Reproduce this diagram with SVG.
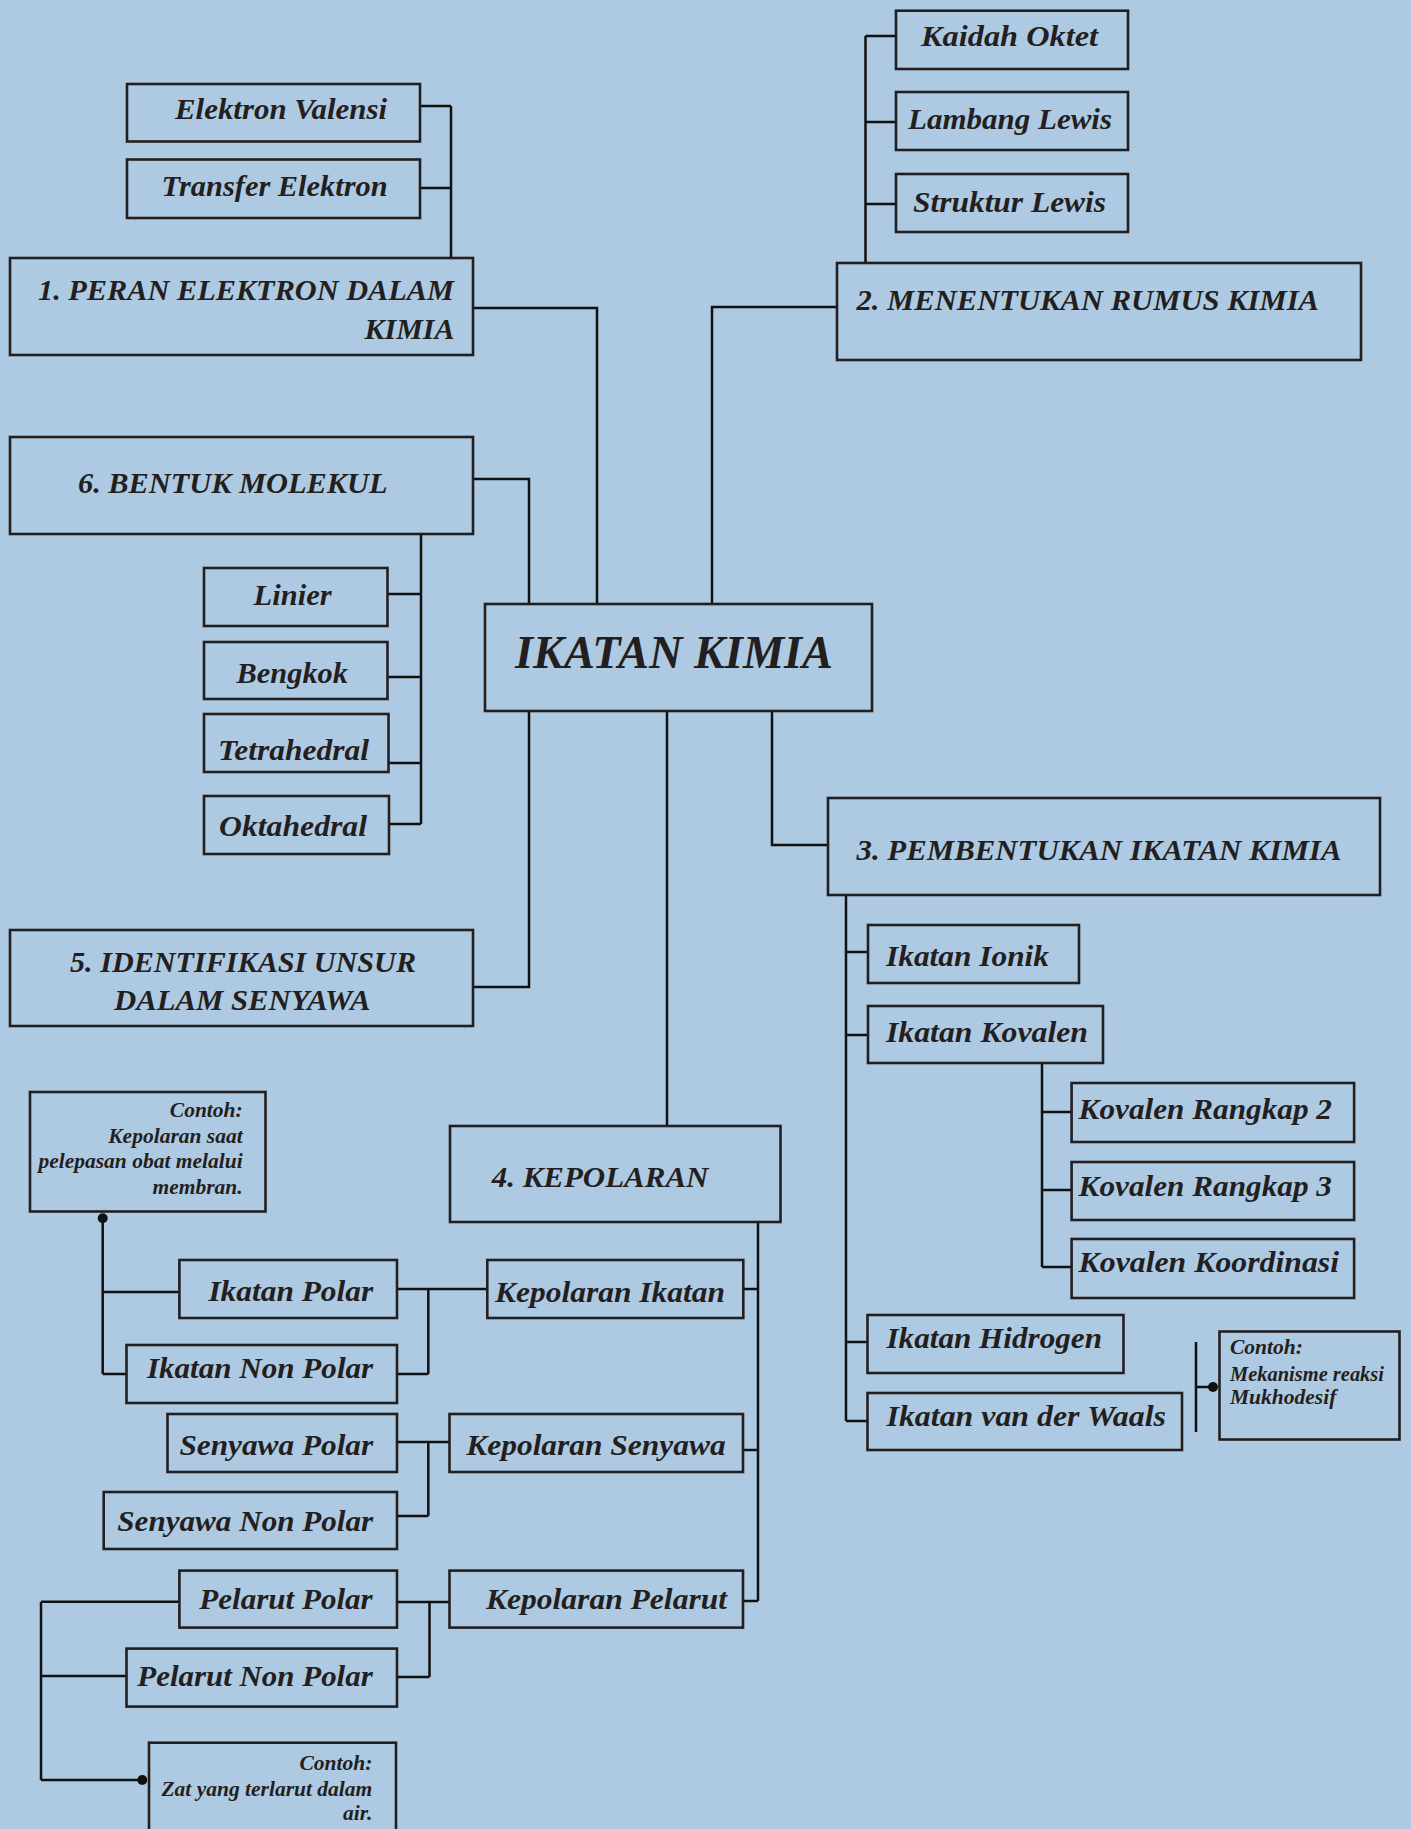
<svg xmlns="http://www.w3.org/2000/svg" width="1411" height="1829" viewBox="0 0 1411 1829">
<style>
.box{fill:none;stroke:#231f20;stroke-width:2.6}
.t{font-family:"Liberation Serif","Times New Roman",serif;font-weight:bold;font-style:italic;fill:#231f20}
.h{font-size:30px}
.n{font-size:30px}
.title{font-size:47px}
.note{font-size:21.5px}
#connectors path{fill:none;stroke:#111;stroke-width:2.5}
#connectors circle{fill:#111}
</style>
<rect x="0" y="0" width="1411" height="1829" fill="#aecae2"/>

<g id="connectors">
  <path d="M473,308 H597 V604"/>
  <path d="M837,307 H712 V604"/>
  <path d="M473,479 H529 V604"/>
  <path d="M529,711 V987 H473"/>
  <path d="M772,711 V845 H828"/>
  <path d="M667,711 V1126"/>
  <path d="M420,106 H451 M420,188 H451 M451,106 V258"/>
  <path d="M865.5,36 V263 M865.5,36 H896 M865.5,122 H896 M865.5,204 H896"/>
  <path d="M421,534 V824 M387.5,594 H421 M387.5,677 H421 M388.5,763 H421 M389,824 H421"/>
  <path d="M846,895 V1421 M846,952 H868 M846,1035 H868 M846,1342 H867.5 M846,1421 H867.5"/>
  <path d="M1042,1063 V1267 M1042,1112 H1071.6 M1042,1190 H1071.6 M1042,1267 H1071.6"/>
  <path d="M1196,1342 V1432 M1196,1387 H1213"/>
  <circle cx="1213" cy="1387" r="5"/>
  <path d="M758,1222 V1601 M743.3,1289 H758 M743,1450 H758 M743,1601 H758"/>
  <path d="M397,1289 H487.3 M428.3,1289 V1374 M397,1374 H428.3"/>
  <path d="M397,1442 H449.5 M428.3,1442 V1516 M397,1516 H428.3"/>
  <path d="M397,1602 H449.5 M429.5,1602 V1677 M397,1677 H429.5"/>
  <path d="M102.7,1218 V1374 M102.7,1292 H179.4 M102.7,1374 H126.5"/>
  <circle cx="102.7" cy="1218.3" r="5"/>
  <path d="M41,1601.7 V1780 M41,1601.7 H179.4 M41,1676 H126.5 M41,1780 H142.3"/>
  <circle cx="142.3" cy="1780" r="5"/>
</g>

<g id="main">
  <rect class="box" x="485" y="604" width="387" height="107"/>
  <text class="t title" x="515" y="668" textLength="318" lengthAdjust="spacingAndGlyphs">IKATAN KIMIA</text>
</g>

<g id="n1">
  <rect class="box" x="10" y="258" width="463" height="97"/>
  <text class="t h" x="38" y="300" textLength="416" lengthAdjust="spacingAndGlyphs">1. PERAN ELEKTRON DALAM</text>
  <text class="t h" x="454.5" y="339" text-anchor="end">KIMIA</text>
</g>
<g id="n1a">
  <rect class="box" x="127" y="84" width="293" height="57.5"/>
  <text class="t n" x="175" y="119" textLength="212" lengthAdjust="spacingAndGlyphs">Elektron Valensi</text>
</g>
<g id="n1b">
  <rect class="box" x="127" y="159.5" width="293" height="58.5"/>
  <text class="t n" x="161.6" y="196" textLength="226" lengthAdjust="spacingAndGlyphs">Transfer Elektron</text>
</g>

<g id="n2">
  <rect class="box" x="837" y="263" width="524" height="97"/>
  <text class="t h" x="856.5" y="310" textLength="462.5" lengthAdjust="spacingAndGlyphs">2. MENENTUKAN RUMUS KIMIA</text>
</g>
<g id="n2a">
  <rect class="box" x="896" y="10.7" width="232" height="58.3"/>
  <text class="t n" x="921" y="46" textLength="177" lengthAdjust="spacingAndGlyphs">Kaidah Oktet</text>
</g>
<g id="n2b">
  <rect class="box" x="896" y="92" width="232" height="58"/>
  <text class="t n" x="908" y="129" textLength="204" lengthAdjust="spacingAndGlyphs">Lambang Lewis</text>
</g>
<g id="n2c">
  <rect class="box" x="896" y="174" width="232" height="58"/>
  <text class="t n" x="913" y="212" textLength="193" lengthAdjust="spacingAndGlyphs">Struktur Lewis</text>
</g>

<g id="n6">
  <rect class="box" x="10" y="437" width="463" height="97"/>
  <text class="t h" x="78" y="493" textLength="309.5" lengthAdjust="spacingAndGlyphs">6. BENTUK MOLEKUL</text>
</g>
<g id="n6a">
  <rect class="box" x="204" y="568" width="183.5" height="58"/>
  <text class="t n" x="253.6" y="605" textLength="78" lengthAdjust="spacingAndGlyphs">Linier</text>
</g>
<g id="n6b">
  <rect class="box" x="204" y="642" width="183.5" height="57"/>
  <text class="t n" x="236.6" y="683" textLength="111.4" lengthAdjust="spacingAndGlyphs">Bengkok</text>
</g>
<g id="n6c">
  <rect class="box" x="204" y="714" width="184.5" height="58"/>
  <text class="t n" x="218" y="760" textLength="151" lengthAdjust="spacingAndGlyphs">Tetrahedral</text>
</g>
<g id="n6d">
  <rect class="box" x="204" y="796" width="185" height="58"/>
  <text class="t n" x="219" y="836" textLength="148" lengthAdjust="spacingAndGlyphs">Oktahedral</text>
</g>

<g id="n5">
  <rect class="box" x="10" y="930" width="463" height="96"/>
  <text class="t h" x="70" y="972" textLength="346" lengthAdjust="spacingAndGlyphs">5. IDENTIFIKASI UNSUR</text>
  <text class="t h" x="114" y="1009.5" textLength="256.5" lengthAdjust="spacingAndGlyphs">DALAM SENYAWA</text>
</g>

<g id="n3">
  <rect class="box" x="828" y="798" width="552" height="97"/>
  <text class="t h" x="856.5" y="860" textLength="485" lengthAdjust="spacingAndGlyphs">3. PEMBENTUKAN IKATAN KIMIA</text>
</g>
<g id="n3a">
  <rect class="box" x="868" y="925" width="211" height="58"/>
  <text class="t n" x="886" y="966" textLength="163" lengthAdjust="spacingAndGlyphs">Ikatan Ionik</text>
</g>
<g id="n3b">
  <rect class="box" x="868" y="1006" width="235" height="57"/>
  <text class="t n" x="886" y="1042" textLength="202" lengthAdjust="spacingAndGlyphs">Ikatan Kovalen</text>
</g>
<g id="n3b1">
  <rect class="box" x="1071.6" y="1083" width="282.5" height="59"/>
  <text class="t n" x="1078.6" y="1119" textLength="253.4" lengthAdjust="spacingAndGlyphs">Kovalen Rangkap 2</text>
</g>
<g id="n3b2">
  <rect class="box" x="1071.6" y="1162" width="282.5" height="58"/>
  <text class="t n" x="1078.6" y="1196" textLength="253.4" lengthAdjust="spacingAndGlyphs">Kovalen Rangkap 3</text>
</g>
<g id="n3b3">
  <rect class="box" x="1071.6" y="1239" width="282.5" height="59"/>
  <text class="t n" x="1078.6" y="1272" textLength="260.4" lengthAdjust="spacingAndGlyphs">Kovalen Koordinasi</text>
</g>
<g id="n3c">
  <rect class="box" x="867.5" y="1315" width="256" height="58"/>
  <text class="t n" x="886.5" y="1348" textLength="215.5" lengthAdjust="spacingAndGlyphs">Ikatan Hidrogen</text>
</g>
<g id="n3d">
  <rect class="box" x="867.5" y="1393" width="314.5" height="57"/>
  <text class="t n" x="886.5" y="1426" textLength="279.5" lengthAdjust="spacingAndGlyphs">Ikatan van der Waals</text>
</g>
<g id="note-vdw">
  <rect class="box" x="1219.5" y="1331.5" width="180" height="108"/>
  <text class="t note" x="1230" y="1354">Contoh:</text>
  <text class="t note" x="1230" y="1381" textLength="154" lengthAdjust="spacingAndGlyphs">Mekanisme reaksi</text>
  <text class="t note" x="1230" y="1404">Mukhodesif</text>
</g>

<g id="n4">
  <rect class="box" x="450" y="1126" width="330.5" height="96"/>
  <text class="t h" x="491.7" y="1186.7" textLength="216.7" lengthAdjust="spacingAndGlyphs">4. KEPOLARAN</text>
</g>
<g id="note-polar">
  <rect class="box" x="30" y="1092" width="235.5" height="119.5"/>
  <text class="t note" x="242.7" y="1117.3" text-anchor="end">Contoh:</text>
  <text class="t note" x="242.7" y="1143.3" text-anchor="end">Kepolaran saat</text>
  <text class="t note" x="242.7" y="1168.3" text-anchor="end">pelepasan obat melalui</text>
  <text class="t note" x="242.7" y="1194" text-anchor="end">membran.</text>
</g>
<g id="n4a">
  <rect class="box" x="487.3" y="1260" width="256" height="58"/>
  <text class="t n" x="495" y="1301.5" textLength="230" lengthAdjust="spacingAndGlyphs">Kepolaran Ikatan</text>
</g>
<g id="n4a1">
  <rect class="box" x="179.4" y="1260" width="217.6" height="58"/>
  <text class="t n" x="208.4" y="1301" textLength="164.8" lengthAdjust="spacingAndGlyphs">Ikatan Polar</text>
</g>
<g id="n4a2">
  <rect class="box" x="126.5" y="1345" width="270.5" height="58"/>
  <text class="t n" x="146.9" y="1378" textLength="226.3" lengthAdjust="spacingAndGlyphs">Ikatan Non Polar</text>
</g>
<g id="n4b">
  <rect class="box" x="449.5" y="1414" width="293.5" height="58"/>
  <text class="t n" x="466.3" y="1455" textLength="259.3" lengthAdjust="spacingAndGlyphs">Kepolaran Senyawa</text>
</g>
<g id="n4b1">
  <rect class="box" x="167.5" y="1414" width="229.5" height="58"/>
  <text class="t n" x="179.4" y="1455" textLength="193.8" lengthAdjust="spacingAndGlyphs">Senyawa Polar</text>
</g>
<g id="n4b2">
  <rect class="box" x="103.7" y="1492" width="293.3" height="57"/>
  <text class="t n" x="117.3" y="1531" textLength="255.9" lengthAdjust="spacingAndGlyphs">Senyawa Non Polar</text>
</g>
<g id="n4c">
  <rect class="box" x="449.5" y="1570.6" width="293.5" height="57"/>
  <text class="t n" x="486" y="1609" textLength="241" lengthAdjust="spacingAndGlyphs">Kepolaran Pelarut</text>
</g>
<g id="n4c1">
  <rect class="box" x="179.4" y="1570.6" width="217.6" height="57"/>
  <text class="t n" x="199.3" y="1609" textLength="173.4" lengthAdjust="spacingAndGlyphs">Pelarut Polar</text>
</g>
<g id="n4c2">
  <rect class="box" x="126.5" y="1648.6" width="270.5" height="58"/>
  <text class="t n" x="137.3" y="1686" textLength="235.4" lengthAdjust="spacingAndGlyphs">Pelarut Non Polar</text>
</g>
<g id="note-pelarut">
  <rect class="box" x="149" y="1742.7" width="247" height="110"/>
  <text class="t note" x="372.3" y="1770" text-anchor="end">Contoh:</text>
  <text class="t note" x="372.3" y="1796" text-anchor="end">Zat yang terlarut dalam</text>
  <text class="t note" x="372.3" y="1820" text-anchor="end">air.</text>
</g>
</svg>
